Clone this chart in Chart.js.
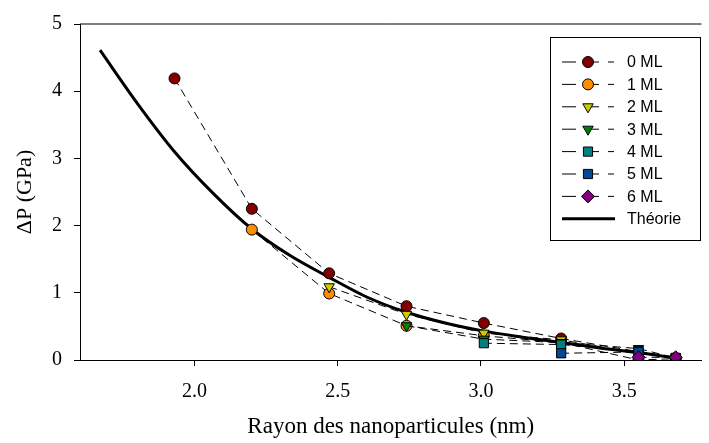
<!DOCTYPE html>
<html>
<head>
<meta charset="utf-8">
<script src="https://cdn.jsdelivr.net/npm/chart.js@4/dist/chart.umd.min.js"></script>
<style>
  body { margin: 0; background: #fff; }
  canvas { display: block; }
</style>
</head>
<body>
<canvas id="chart" width="709" height="443"></canvas>
<script>
// valeurs
const xTicks = [2.0, 2.5, 3.0, 3.5];
const yTicks = [0, 1, 2, 3, 4, 5];
const labels = ["0 ML", "1 ML", "2 ML", "3 ML", "4 ML", "5 ML", "6 ML", "Théorie"];

const rayon0 = [1.93, 2.20, 2.47, 2.74, 3.01, 3.28, 3.68];
const dp0 = [4.19, 2.25, 1.29, 0.80, 0.55, 0.32, 0.03];
const rayon1 = [2.20, 2.47, 2.74, 3.01, 3.28, 3.55, 3.68];
const dp1 = [1.94, 0.99, 0.51, 0.36, 0.26, 0.00, 0.02];
const rayon2 = [2.47, 2.74, 3.01, 3.28, 3.55, 3.68];
const dp2 = [1.09, 0.68, 0.40, 0.30, 0.10, 0.03];
const rayon3 = [2.74, 3.01, 3.28, 3.55, 3.68];
const dp3 = [0.51, 0.31, 0.26, 0.17, 0.03];
const rayon4 = [3.01, 3.28, 3.55, 3.68];
const dp4 = [0.25, 0.23, 0.13, 0.03];
const rayon5 = [3.28, 3.55, 3.68];
const dp5 = [0.10, 0.12, 0.03];
const rayon6 = [3.55, 3.68];
const dp6 = [0.04, 0.04];

const rayonTheorie = [1.67, 1.80, 1.93, 2.065, 2.20, 2.335, 2.47, 2.605, 2.74, 2.875, 3.01, 3.145, 3.28, 3.415, 3.55, 3.68];
const dpTheorie = [4.61, 3.82, 3.10, 2.48, 1.95, 1.55, 1.23, 0.93, 0.71, 0.55, 0.43, 0.34, 0.26, 0.18, 0.11, 0.03];

const couleurs = ["#800000", "#ff8c00", "#cccc00", "#008000", "#008080", "#004a94", "#800080"];
const formes = ["circle", "circle", "triangle", "triangle", "rect", "rect", "rectRot"];
const rotations = [0, 0, 180, 180, 0, 0, 0];
const tailles = [5.5, 5.5, 6, 6, 6.5, 6.5, 6.5];

const pts = (xs, ys) => xs.map((x, i) => ({ x: x, y: ys[i] }));

const rayons = [rayon0, rayon1, rayon2, rayon3, rayon4, rayon5, rayon6];
const dps = [dp0, dp1, dp2, dp3, dp4, dp5, dp6];

const datasets = rayons.map((r, i) => ({
  label: labels[i],
  data: pts(r, dps[i]),
  showLine: true,
  borderColor: "#000",
  borderWidth: 1,
  borderDash: [8, 5],
  tension: 0,
  pointStyle: formes[i],
  rotation: rotations[i],
  pointRadius: tailles[i],
  pointBackgroundColor: couleurs[i],
  pointBorderColor: "#000",
  pointBorderWidth: 1,
  order: 6 - i,
}));

datasets.push({
  label: labels[7],
  data: pts(rayonTheorie, dpTheorie),
  showLine: true,
  borderColor: "#000",
  borderWidth: 3,
  pointRadius: 0,
  cubicInterpolationMode: "monotone",
  order: 10,
});

// trait du haut du cadre
const cadreHaut = {
  id: "cadreHaut",
  afterDraw(chart) {
    const { ctx, chartArea } = chart;
    ctx.save();
    ctx.strokeStyle = "#000";
    ctx.lineWidth = 1;
    ctx.beginPath();
    ctx.moveTo(chartArea.left, chartArea.top);
    ctx.lineTo(chartArea.right, chartArea.top);
    ctx.stroke();
    ctx.restore();
  },
};

// légende dans un cadre, à l'intérieur du graphe
const legendeCadre = {
  id: "legendeCadre",
  afterDraw(chart) {
    const ctx = chart.ctx;
    ctx.save();
    ctx.fillStyle = "#fff";
    ctx.fillRect(550, 37, 150, 203);
    ctx.strokeStyle = "#000";
    ctx.lineWidth = 1;
    ctx.strokeRect(550.5, 37.5, 150, 203);
    ctx.font = "16px 'Liberation Sans', Arial, sans-serif";
    ctx.textBaseline = "middle";
    chart.data.datasets.forEach((ds, i) => {
      const y = 62 + i * 22.4;
      ctx.strokeStyle = "#000";
      if (i < 7) {
        ctx.lineWidth = 1;
        ctx.setLineDash([14, 9]);
        ctx.beginPath();
        ctx.moveTo(562, y);
        ctx.lineTo(614, y);
        ctx.stroke();
        ctx.setLineDash([]);
        ctx.fillStyle = couleurs[i];
        Chart.helpers.drawPoint(ctx, {
          pointStyle: formes[i],
          rotation: rotations[i],
          radius: tailles[i],
          borderWidth: 1,
        }, 588, y);
      } else {
        ctx.lineWidth = 3;
        ctx.beginPath();
        ctx.moveTo(562, y);
        ctx.lineTo(615, y);
        ctx.stroke();
      }
      ctx.fillStyle = "#000";
      ctx.fillText(ds.label, 627, y + 1);
    });
    ctx.restore();
  },
};

const serif = "'Liberation Serif', 'Times New Roman', serif";

new Chart(document.getElementById("chart"), {
  type: "scatter",
  data: { datasets: datasets },
  plugins: [cadreHaut, legendeCadre],
  options: {
    responsive: false,
    animation: false,
    layout: { padding: { top: 20, right: 0, bottom: 0, left: 0 } },
    plugins: { legend: { display: false }, tooltip: { enabled: false } },
    scales: {
      x: {
        type: "linear",
        min: 1.6,
        max: 3.77,
        afterBuildTicks: (axis) => { axis.ticks = xTicks.map((v) => ({ value: v })); },
        afterFit: (axis) => { axis.height = 83; },
        ticks: {
          color: "#000",
          padding: 14,
          font: { family: serif, size: 20 },
          callback: (v) => Number(v).toFixed(1),
        },
        grid: { drawOnChartArea: false, drawTicks: true, tickLength: 6, color: "#000" },
        border: { display: true, color: "#000", width: 1 },
        title: {
          display: true,
          text: "Rayon des nanoparticules (nm)",
          color: "#000",
          font: { family: serif, size: 23 },
          padding: { top: 0, bottom: 2 },
        },
      },
      y: {
        min: 0,
        max: 5,
        afterBuildTicks: (axis) => { axis.ticks = yTicks.map((v) => ({ value: v })); },
        afterFit: (axis) => { axis.width = 80; },
        ticks: {
          color: "#000",
          padding: 12,
          font: { family: serif, size: 20 },
          callback: (v) => Number(v).toFixed(0),
        },
        grid: { drawOnChartArea: false, drawTicks: true, tickLength: 6, color: "#000" },
        border: { display: true, color: "#000", width: 1 },
        title: {
          display: true,
          text: "ΔP (GPa)",
          color: "#000",
          font: { family: serif, size: 22 },
          padding: { top: 12, bottom: 0 },
        },
      },
    },
  },
});
</script>
</body>
</html>
